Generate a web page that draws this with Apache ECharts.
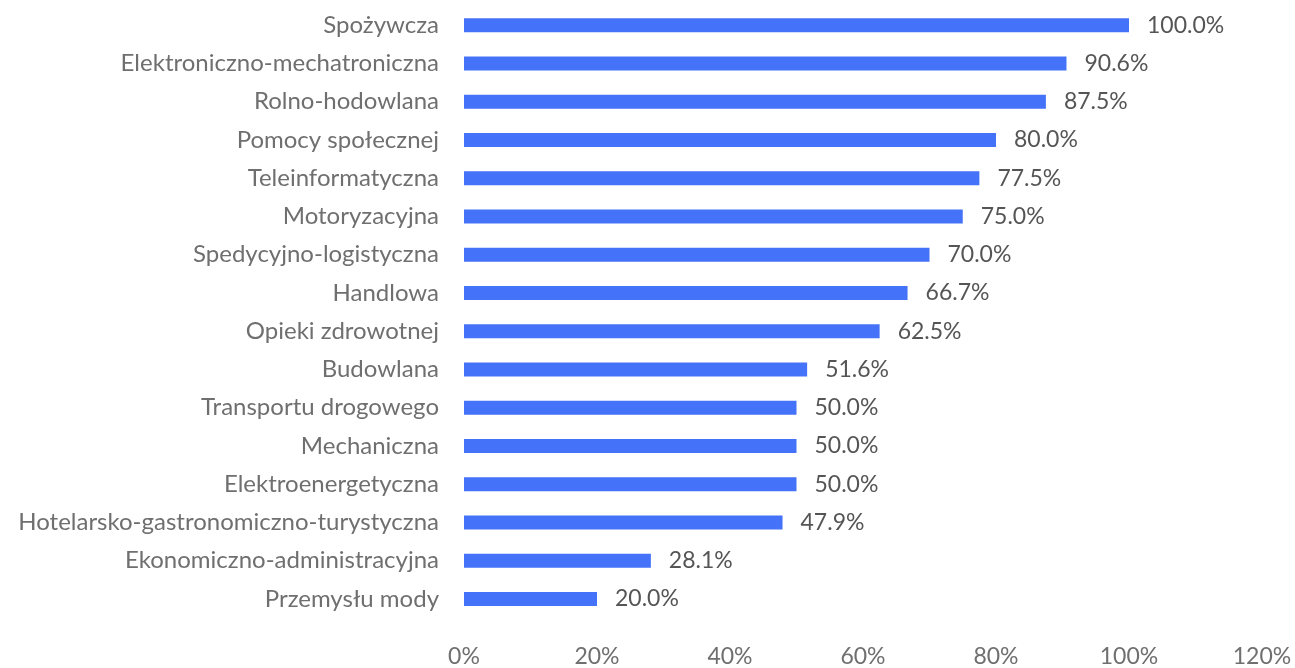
<!DOCTYPE html>
<html>
<head>
<meta charset="utf-8">
<script src="https://cdn.jsdelivr.net/npm/echarts@6/dist/echarts.min.js"></script>
<style>
  html, body { margin: 0; padding: 0; background: #ffffff; }
  #chart { width: 1295px; height: 668px; }
</style>
</head>
<body>
<div id="chart"></div>
<script>
// Industries, listed top to bottom
const categories = [
  'Spożywcza',
  'Elektroniczno-mechatroniczna',
  'Rolno-hodowlana',
  'Pomocy społecznej',
  'Teleinformatyczna',
  'Motoryzacyjna',
  'Spedycyjno-logistyczna',
  'Handlowa',
  'Opieki zdrowotnej',
  'Budowlana',
  'Transportu drogowego',
  'Mechaniczna',
  'Elektroenergetyczna',
  'Hotelarsko-gastronomiczno-turystyczna',
  'Ekonomiczno-administracyjna',
  'Przemysłu mody'
];
// Share in percent, same order as categories
const values = [100.0, 90.6, 87.5, 80.0, 77.5, 75.0, 70.0, 66.7, 62.5, 51.6, 50.0, 50.0, 50.0, 47.9, 28.1, 20.0];

const FONT = 'Lato, "Open Sans", sans-serif';
const chart = echarts.init(document.getElementById('chart'), null, { renderer: 'canvas' });

chart.setOption({
  animation: false,
  backgroundColor: '#ffffff',
  grid: { left: 464, right: 33, top: 6, bottom: 48, containLabel: false },
  xAxis: {
    type: 'value',
    min: 0,
    max: 120,
    interval: 20,
    axisLine: { show: false },
    axisTick: { show: false },
    splitLine: { show: false },
    axisLabel: {
      formatter: v => v + '%',
      color: '#6f6f6f',
      fontSize: 23,
      fontFamily: FONT,
      margin: 27
    }
  },
  yAxis: {
    type: 'category',
    inverse: true,
    data: categories,
    axisLine: { show: false },
    axisTick: { show: false },
    axisLabel: {
      color: '#6f6f6f',
      fontSize: 24,
      fontFamily: FONT,
      margin: 25
    }
  },
  series: [{
    type: 'bar',
    data: values,
    barWidth: 14,
    itemStyle: { color: '#4472f8' },
    label: {
      show: true,
      position: 'right',
      distance: 18,
      formatter: p => p.value.toFixed(1) + '%',
      color: '#555555',
      fontSize: 23,
      fontFamily: FONT
    }
  }]
});
</script>
</body>
</html>
